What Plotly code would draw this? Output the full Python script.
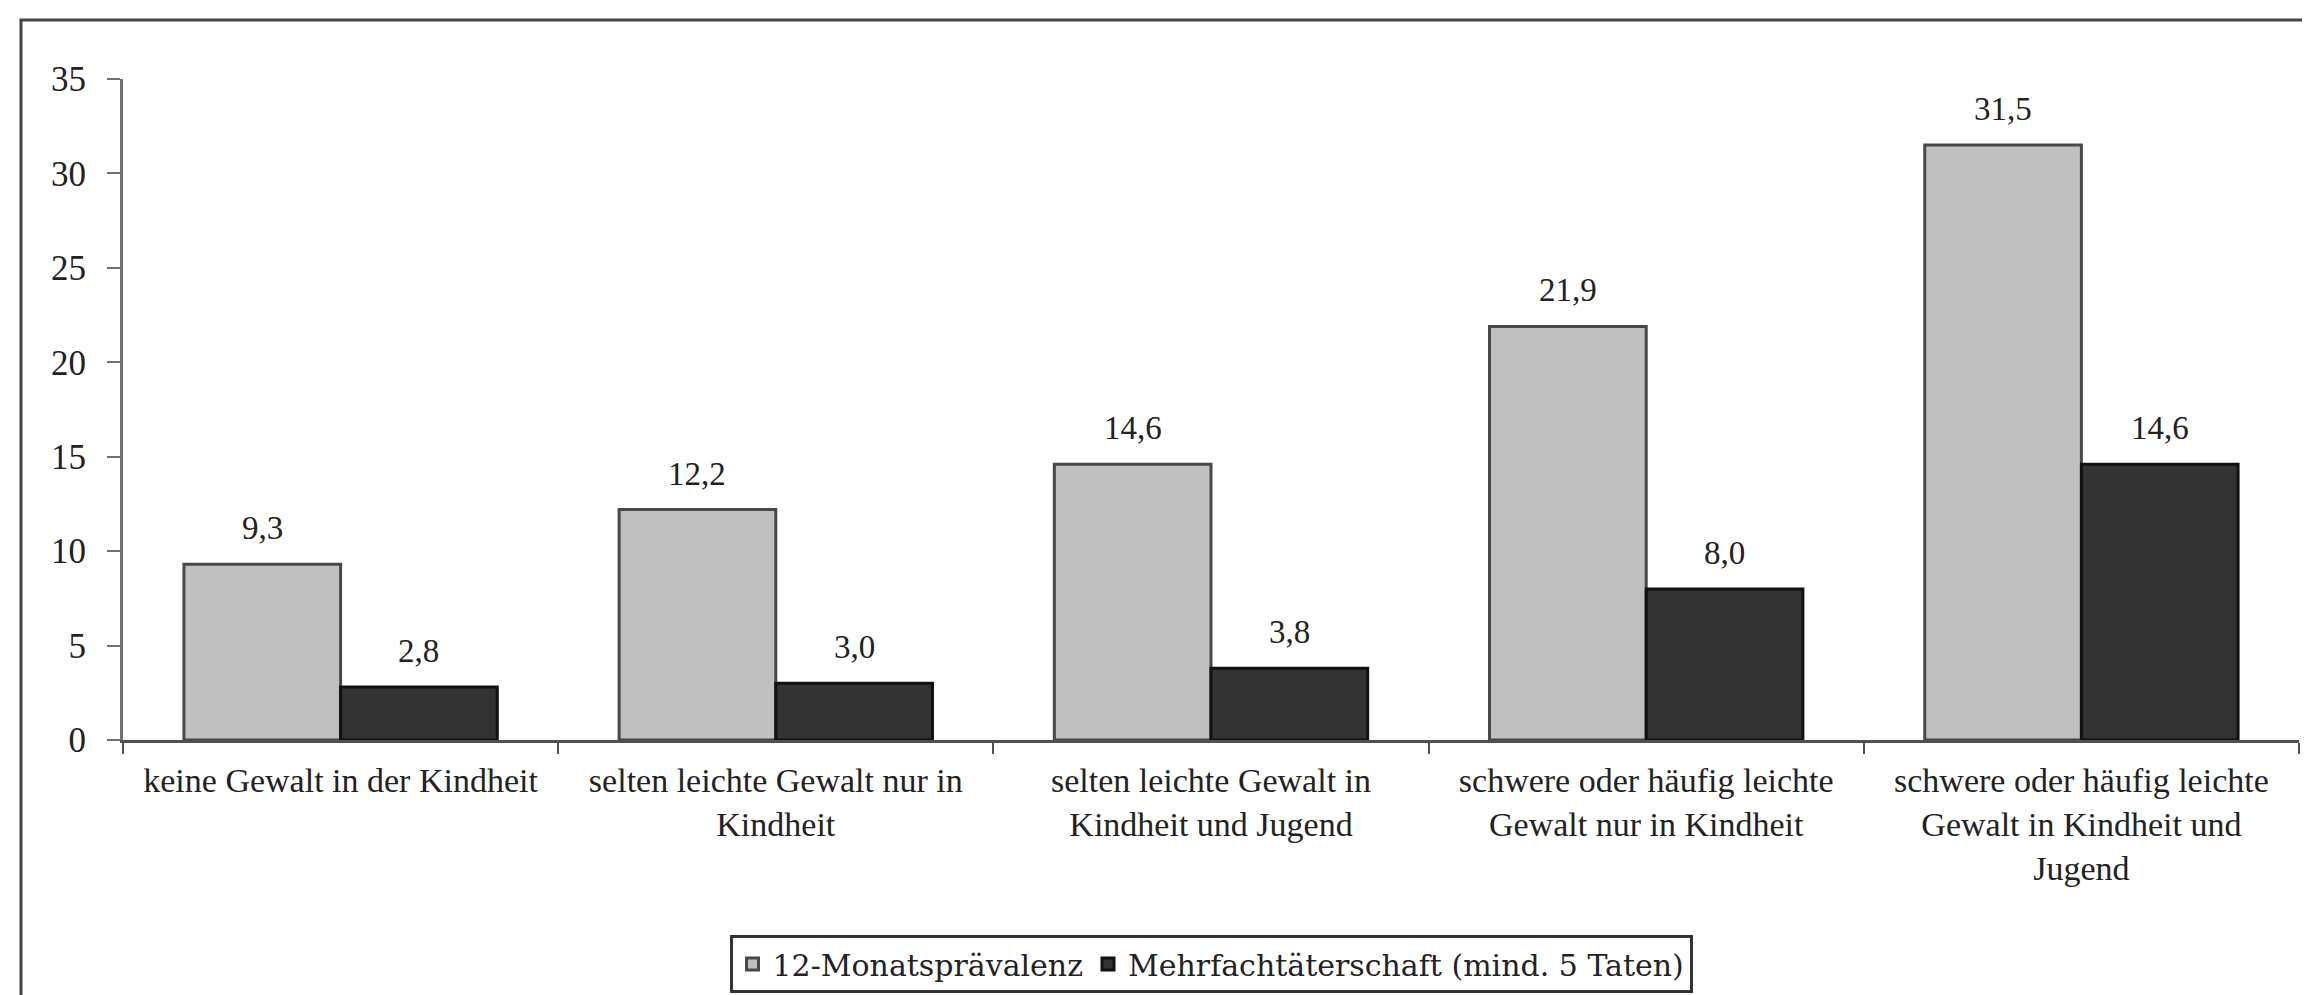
import plotly.graph_objects as go

categories = [
    "keine Gewalt in der Kindheit",
    "selten leichte Gewalt nur in<br>Kindheit",
    "selten leichte Gewalt in<br>Kindheit und Jugend",
    "schwere oder häufig leichte<br>Gewalt nur in Kindheit",
    "schwere oder häufig leichte<br>Gewalt in Kindheit und<br>Jugend",
]
series_names = ["12-Monatsprävalenz", "Mehrfachtäterschaft (mind. 5 Taten)"]
praevalenz = [9.3, 12.2, 14.6, 21.9, 31.5]
mehrfach = [2.8, 3.0, 3.8, 8.0, 14.6]
y_ticks = [0, 5, 10, 15, 20, 25, 30, 35]

W, H = 2310, 995
ML, MR, MT, MB = 115, 19, 71, 263
BARGAP = 0.28
SERIF = "Liberation Serif, Times New Roman, serif"

fig = go.Figure()
fig.add_bar(
    x=categories, y=praevalenz, name=series_names[0],
    marker=dict(color="#c0c0c0", line=dict(color="#484848", width=3)),
)
fig.add_bar(
    x=categories, y=mehrfach, name=series_names[1],
    marker=dict(color="#333333", line=dict(color="#111111", width=3)),
)

# value labels above bars
plot_w = W - ML - MR
plot_h = H - MT - MB
cat_px = plot_w / len(categories)
bar_px = cat_px * (1 - BARGAP) / 2
annotations = []
for series, sign in ((praevalenz, -1), (mehrfach, 1)):
    for c, v in zip(categories, series):
        annotations.append(dict(
            x=c, y=v, xref="x", yref="y",
            text=f"{v:.1f}".replace(".", ","),
            showarrow=False, xshift=sign * bar_px / 2,
            yanchor="bottom", yshift=16,
            font=dict(family=SERIF, size=33, color="#222222"),
        ))

fig.update_layout(
    width=W, height=H,
    margin=dict(l=ML, r=MR, t=MT, b=MB, autoexpand=False),
    paper_bgcolor="white", plot_bgcolor="white",
    barmode="group", bargap=BARGAP, bargroupgap=0,
    font=dict(family=SERIF, size=34, color="#222222"),
    annotations=annotations,
    showlegend=True,
    legend=dict(
        orientation="h", x=0.5, xanchor="center",
        y=-(927 - (H - MB)) / plot_h, yanchor="top",
        bordercolor="#333333", borderwidth=3, bgcolor="white",
        font=dict(family="DejaVu Serif, serif", size=30, color="#222222"),
        itemwidth=30,
    ),
    shapes=[dict(
        type="rect", xref="paper", yref="paper",
        x0=(13 - ML) / plot_w, x1=1.2,
        y0=-0.6, y1=1 + (MT - 12) / plot_h,
        line=dict(color="#444444", width=3), fillcolor="rgba(0,0,0,0)",
        layer="below",
    )],
)

fig.update_xaxes(
    showline=True, linecolor="#505050", linewidth=3,
    ticks="outside", tickson="boundaries", ticklen=11, tickwidth=2, tickcolor="#505050",
    tickfont=dict(family=SERIF, size=34, color="#222222"),
    ticklabelstandoff=8,
    showgrid=False, zeroline=False,
)
fig.update_yaxes(
    range=[0, 35], tickvals=y_ticks, ticktext=[str(t) for t in y_ticks],
    showline=True, linecolor="#707070", linewidth=3,
    ticks="outside", ticklen=13, tickwidth=2, tickcolor="#707070",
    tickfont=dict(family=SERIF, size=35, color="#222222"),
    ticklabelstandoff=14,
    showgrid=False, zeroline=False,
)

fig.write_html("out.html")
